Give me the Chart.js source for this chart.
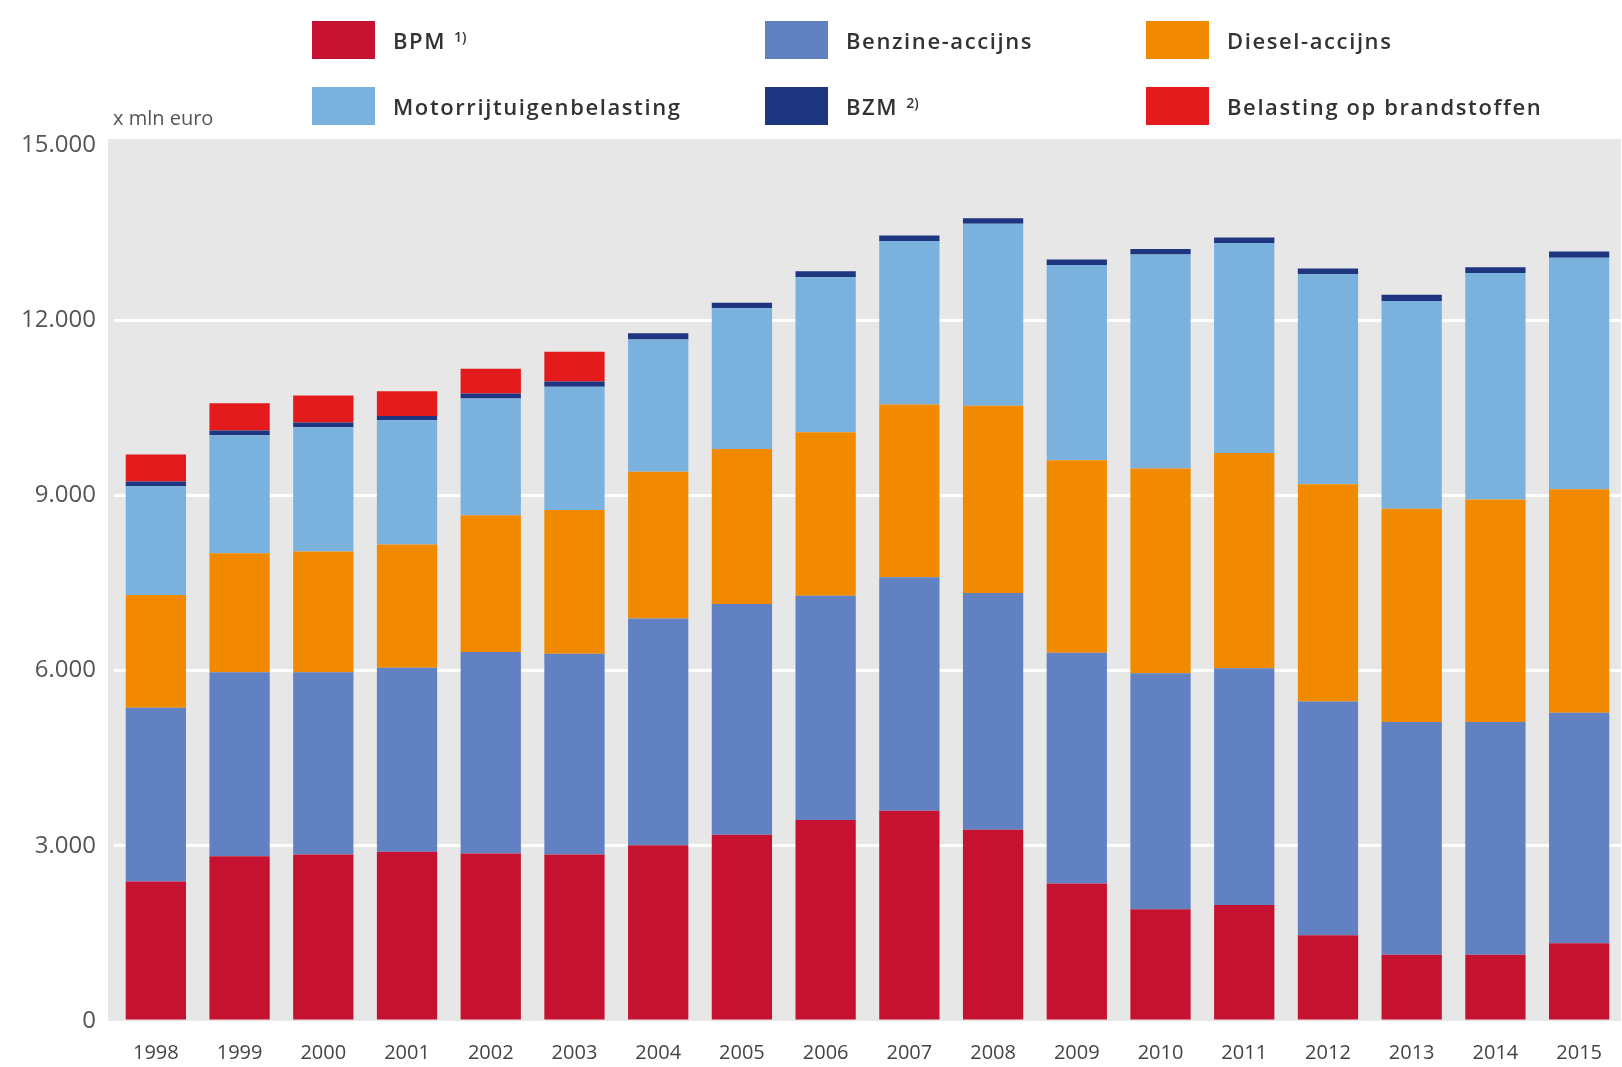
<!DOCTYPE html>
<html lang="nl">
<head>
<meta charset="UTF-8">
<title>Belastingen op autobezit en brandstof</title>
<script src="https://cdn.jsdelivr.net/npm/chart.js"></script>
<style>
  body { margin: 0; background: #fff; font-family: "Open Sans", Arial, sans-serif; }
  #wrap { position: relative; width: 1622px; height: 1067px; }
  #chart { position: absolute; left: 0; top: 0; }
  .legend-item { position: absolute; display: flex; align-items: center; font-size: 22px; font-weight: 600; color: #333; letter-spacing: 1.6px; }
  .legend-item sup { font-size: 14px; margin-left: 8px; position: relative; top: -4px; letter-spacing: 0; }
  .swatch { width: 63px; height: 38px; margin-right: 18px; }
  .unit { position: absolute; left: 113px; top: 104px; font-size: 20px; color: #555; letter-spacing: 0; }
</style>
</head>
<body>
<div id="wrap">
  <canvas id="chart" width="1622" height="1067"></canvas>
  <div class="unit">x mln euro</div>
  <div id="legend"></div>
</div>
<script>
const years = ['1998','1999','2000','2001','2002','2003','2004','2005','2006','2007','2008','2009','2010','2011','2012','2013','2014','2015'];

// x mln euro
const bpm        = [2390, 2820, 2850, 2900, 2870, 2850, 3010, 3190, 3440, 3600, 3275, 2355, 1915, 1985, 1470, 1135, 1135, 1330];
const benzine    = [2975, 3150, 3120, 3150, 3450, 3440, 3880, 3950, 3840, 4000, 4055, 3950, 4040, 4055, 4000, 3985, 3985, 3950];
const diesel     = [1930, 2040, 2070, 2110, 2340, 2460, 2515, 2655, 2800, 2955, 3205, 3295, 3505, 3685, 3720, 3650, 3810, 3825];
const motorrijt  = [1860, 2020, 2125, 2125, 2000, 2110, 2265, 2410, 2655, 2800, 3115, 3345, 3665, 3595, 3595, 3560, 3880, 3965];
const bzm        = [ 85,   80,   85,   75,   85,   90,  105,   95,  105,   95,   95,   95,   95,   95,  100,  105,   95,  105];
const brandstof  = [460,  470,  460,  425,  425,  510,    0,    0,    0,    0,    0,    0,    0,    0,    0,    0,    0,    0];

const yTicks = [0, 3000, 6000, 9000, 12000, 15000];

const seriesNames  = ['BPM', 'Benzine-accijns', 'Diesel-accijns', 'Motorrijtuigenbelasting', 'BZM', 'Belasting op brandstoffen'];
const seriesNotes  = ['1)', '', '', '', '2)', ''];
const seriesColors = ['#c51230', '#6181c3', '#f28a00', '#7bb2dd', '#1e3580', '#e31b1d'];
const seriesData   = [bpm, benzine, diesel, motorrijt, bzm, brandstof];

// legend: three columns, two rows, same as the print
const legendPos = [
  [312, 21], [765, 21], [1146, 21],
  [312, 87], [765, 87], [1146, 87]
];
const legend = document.getElementById('legend');
seriesNames.forEach((name, i) => {
  const item = document.createElement('div');
  item.className = 'legend-item';
  item.style.left = legendPos[i][0] + 'px';
  item.style.top = legendPos[i][1] + 'px';
  item.innerHTML = '<span class="swatch" style="background:' + seriesColors[i] + '"></span>' +
    '<span>' + name + '</span>' + (seriesNotes[i] ? '<sup>' + seriesNotes[i] + '</sup>' : '');
  legend.appendChild(item);
});

function dotted(v) {
  return String(v).replace(/\B(?=(\d{3})+(?!\d))/g, '.');
}

const plotBackground = {
  id: 'plotBackground',
  beforeDraw(chart) {
    const { ctx, chartArea: a } = chart;
    ctx.save();
    ctx.fillStyle = '#e7e7e7';
    ctx.fillRect(a.left - 6, a.top - 6, a.right - a.left + 6, a.bottom - a.top + 6);
    ctx.restore();
  }
};

new Chart(document.getElementById('chart'), {
  type: 'bar',
  data: {
    labels: years,
    datasets: seriesData.map((d, i) => ({
      label: seriesNames[i],
      data: d,
      backgroundColor: seriesColors[i],
      borderWidth: 0,
      barPercentage: 0.72,
      categoryPercentage: 1
    }))
  },
  options: {
    responsive: false,
    animation: false,
    layout: { padding: { top: 145, right: 0, left: 0, bottom: 0 } },
    plugins: { legend: { display: false }, tooltip: { enabled: false } },
    scales: {
      x: {
        stacked: true,
        grid: { display: false, drawTicks: false },
        border: { display: false },
        ticks: { color: '#444', font: { family: 'Open Sans', size: 20 }, padding: 20, maxRotation: 0 },
        afterFit(scale) { scale.height = 46; }
      },
      y: {
        stacked: true,
        min: 0,
        max: 15000,
        afterBuildTicks(scale) { scale.ticks = yTicks.map(v => ({ value: v })); },
        grid: {
          color: ctx => (ctx.tick && (ctx.tick.value === 0 || ctx.tick.value === 15000)) ? 'rgba(0,0,0,0)' : '#ffffff',
          lineWidth: 3,
          drawTicks: false
        },
        border: { display: false },
        ticks: { color: '#555', font: { family: 'Open Sans', size: 24 }, padding: 18, callback: v => dotted(v) },
        afterFit(scale) { scale.width = 114; }
      }
    }
  },
  plugins: [plotBackground]
});
</script>
</body>
</html>
